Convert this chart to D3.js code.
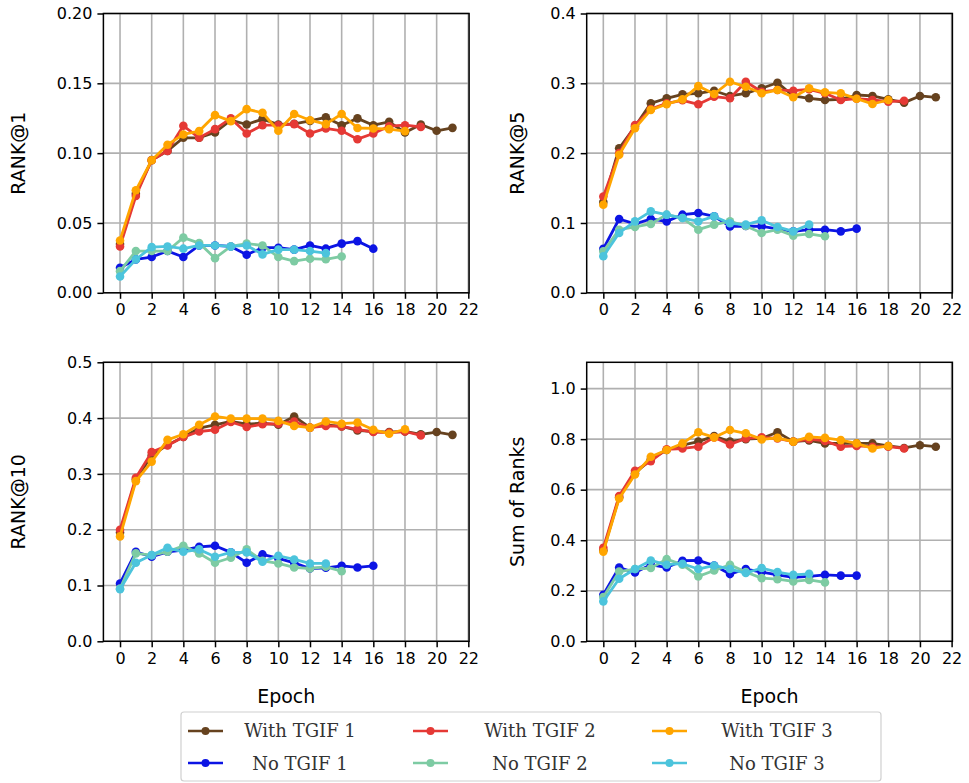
<!DOCTYPE html>
<html><head><meta charset="utf-8">
<script src="https://cdn.jsdelivr.net/npm/d3@7"></script>
<style>body{margin:0;background:#fff} svg{display:block}</style>
</head><body>
<svg id="chart" width="969" height="783"></svg>
<script>
// ---------- data ----------
const xTicks = [0, 2, 4, 6, 8, 10, 12, 14, 16, 18, 20, 22];
const seriesNames = ["With TGIF 1", "With TGIF 2", "With TGIF 3", "No TGIF 1", "No TGIF 2", "No TGIF 3"];
const seriesColors = ["#66421f", "#e53935", "#ffa500", "#0c14e4", "#7dcba3", "#4cc4dc"];

const yLabels = ["RANK@1", "RANK@5", "RANK@10", "Sum of Ranks"];
const yTicks1 = [0, 0.05, 0.10, 0.15, 0.20];
const yTicks5 = [0, 0.1, 0.2, 0.3, 0.4];
const yTicks10 = [0, 0.1, 0.2, 0.3, 0.4, 0.5];
const yTicksSum = [0, 0.2, 0.4, 0.6, 0.8, 1.0];

const rank1_with1 = [0.035, 0.071, 0.095, 0.1016, 0.111, 0.111, 0.1148, 0.1236, 0.1205, 0.1244, 0.1205, 0.121, 0.1231, 0.1256, 0.120, 0.1249, 0.120, 0.1224, 0.1148, 0.1205, 0.116, 0.1181];
const rank1_with2 = [0.0332, 0.0693, 0.0949, 0.1016, 0.1196, 0.111, 0.1172, 0.1249, 0.1141, 0.120, 0.120, 0.1208, 0.1141, 0.1177, 0.116, 0.110, 0.1141, 0.1193, 0.120, 0.1188];
const rank1_with3 = [0.0375, 0.0734, 0.0949, 0.106, 0.1134, 0.1158, 0.1272, 0.1229, 0.1315, 0.1289, 0.116, 0.128, 0.1236, 0.1208, 0.128, 0.118, 0.1177, 0.1172, 0.1158];
const rank1_no1 = [0.0179, 0.0239, 0.0256, 0.0299, 0.0256, 0.0339, 0.0339, 0.0332, 0.0273, 0.0323, 0.0323, 0.0309, 0.0339, 0.0316, 0.0352, 0.037, 0.0316];
const rank1_no2 = [0.0155, 0.0299, 0.0299, 0.0299, 0.0395, 0.0356, 0.0248, 0.0332, 0.0352, 0.0339, 0.0256, 0.0227, 0.0244, 0.024, 0.026];
const rank1_no3 = [0.0117, 0.0239, 0.0327, 0.0332, 0.0316, 0.0339, 0.0339, 0.0332, 0.0339, 0.0275, 0.0309, 0.0309, 0.0299, 0.0284];

const rank5_with1 = [0.130, 0.207, 0.238, 0.2714, 0.2786, 0.2843, 0.2857, 0.2894, 0.2819, 0.2857, 0.2929, 0.3009, 0.2819, 0.2786, 0.2761, 0.277, 0.2833, 0.2819, 0.277, 0.2724, 0.2819, 0.28];
const rank5_with2 = [0.138, 0.200, 0.2404, 0.263, 0.2714, 0.2757, 0.27, 0.2809, 0.2786, 0.3023, 0.288, 0.2904, 0.2894, 0.2914, 0.2857, 0.2761, 0.278, 0.2761, 0.2738, 0.275];
const rank5_with3 = [0.126, 0.1976, 0.2357, 0.262, 0.27, 0.277, 0.296, 0.2847, 0.3023, 0.295, 0.2857, 0.2904, 0.28, 0.2929, 0.2871, 0.2857, 0.278, 0.2704, 0.2761];
const rank5_no1 = [0.0629, 0.1057, 0.0986, 0.1057, 0.1023, 0.1119, 0.1143, 0.1094, 0.0951, 0.0957, 0.0951, 0.0914, 0.088, 0.0904, 0.0904, 0.088, 0.0919];
const rank5_no2 = [0.0594, 0.0904, 0.0943, 0.0986, 0.1119, 0.1071, 0.0904, 0.0976, 0.1023, 0.0957, 0.0857, 0.0904, 0.0819, 0.0843, 0.0809];
const rank5_no3 = [0.0523, 0.0857, 0.1023, 0.1166, 0.1119, 0.1071, 0.1023, 0.1094, 0.0995, 0.0976, 0.1037, 0.0943, 0.088, 0.0976];

const rank10_with1 = [0.195, 0.29, 0.333, 0.352, 0.366, 0.382, 0.388, 0.394, 0.389, 0.391, 0.388, 0.403, 0.383, 0.388, 0.385, 0.378, 0.376, 0.375, 0.376, 0.371, 0.375, 0.37];
const rank10_with2 = [0.2, 0.293, 0.339, 0.351, 0.366, 0.376, 0.379, 0.393, 0.384, 0.389, 0.39, 0.394, 0.383, 0.386, 0.385, 0.38, 0.375, 0.374, 0.376, 0.369];
const rank10_with3 = [0.188, 0.287, 0.322, 0.361, 0.371, 0.388, 0.403, 0.399, 0.399, 0.399, 0.395, 0.386, 0.383, 0.394, 0.39, 0.392, 0.379, 0.372, 0.38];
const rank10_no1 = [0.1036, 0.1604, 0.1515, 0.1604, 0.1635, 0.1694, 0.1712, 0.1593, 0.1407, 0.1557, 0.1485, 0.1407, 0.1305, 0.1317, 0.1353, 0.1323, 0.1353];
const rank10_no2 = [0.0946, 0.1575, 0.1545, 0.1604, 0.1712, 0.1575, 0.1407, 0.1497, 0.1647, 0.1443, 0.1395, 0.1323, 0.1305, 0.1335, 0.1257];
const rank10_no3 = [0.0934, 0.1407, 0.1545, 0.1676, 0.1604, 0.1647, 0.1515, 0.1593, 0.1593, 0.1425, 0.1533, 0.1467, 0.1395, 0.1395];

const sum_with1 = [0.36, 0.57, 0.665, 0.72, 0.757, 0.776, 0.79, 0.812, 0.79, 0.80, 0.803, 0.827, 0.79, 0.795, 0.783, 0.783, 0.783, 0.783, 0.773, 0.765, 0.776, 0.77];
const sum_with2 = [0.37, 0.575, 0.675, 0.713, 0.76, 0.763, 0.77, 0.807, 0.779, 0.803, 0.807, 0.803, 0.79, 0.80, 0.793, 0.77, 0.773, 0.77, 0.77, 0.763];
const sum_with3 = [0.355, 0.565, 0.66, 0.73, 0.757, 0.783, 0.827, 0.807, 0.836, 0.823, 0.799, 0.805, 0.79, 0.809, 0.805, 0.796, 0.783, 0.763, 0.773];
const sum_no1 = [0.184, 0.292, 0.272, 0.303, 0.292, 0.319, 0.32, 0.30, 0.266, 0.286, 0.274, 0.263, 0.253, 0.257, 0.263, 0.26, 0.26];
const sum_no2 = [0.175, 0.276, 0.286, 0.29, 0.325, 0.303, 0.257, 0.28, 0.303, 0.274, 0.25, 0.246, 0.237, 0.243, 0.233];
const sum_no3 = [0.158, 0.2475, 0.286, 0.32, 0.303, 0.307, 0.286, 0.30, 0.286, 0.27, 0.29, 0.274, 0.263, 0.267];

// ---------- layout ----------
const panels = [
  {label: yLabels[0], series: [rank1_with1, rank1_with2, rank1_with3, rank1_no1, rank1_no2, rank1_no3], yMax: 0.20, ticks: yTicks1, fmt: d3.format(".2f"), l: 103.4, r: 469.1, t: 13.5, b: 292.8, labX: 18},
  {label: yLabels[1], series: [rank5_with1, rank5_with2, rank5_with3, rank5_no1, rank5_no2, rank5_no3], yMax: 0.40, ticks: yTicks5, fmt: d3.format(".1f"), l: 586.7, r: 952.4, t: 13.5, b: 292.8, labX: 517},
  {label: yLabels[2], series: [rank10_with1, rank10_with2, rank10_with3, rank10_no1, rank10_no2, rank10_no3], yMax: 0.50, ticks: yTicks10, fmt: d3.format(".1f"), l: 103.4, r: 469.1, t: 362.3, b: 641.3, labX: 18, xlab: true},
  {label: yLabels[3], series: [sum_with1, sum_with2, sum_with3, sum_no1, sum_no2, sum_no3], yMax: 1.104, ticks: yTicksSum, fmt: d3.format(".1f"), l: 586.7, r: 952.4, t: 362.3, b: 641.3, labX: 517, xlab: true}
];

const svg = d3.select("#chart");
const FONT = "DejaVu Sans, sans-serif";

panels.forEach(p => {
  const x = d3.scaleLinear().domain([-1.05, 22.05]).range([p.l, p.r]);
  const y = d3.scaleLinear().domain([0, p.yMax]).range([p.b, p.t]);
  const g = svg.append("g");

  // grid
  g.append("g").selectAll("line").data(xTicks).join("line")
    .attr("x1", d => x(d)).attr("x2", d => x(d)).attr("y1", p.t).attr("y2", p.b)
    .attr("stroke", "#b0b0b0").attr("stroke-width", 1.6);
  g.append("g").selectAll("line").data(p.ticks).join("line")
    .attr("y1", d => y(d)).attr("y2", d => y(d)).attr("x1", p.l).attr("x2", p.r)
    .attr("stroke", "#b0b0b0").attr("stroke-width", 1.6);

  // axes
  const xa = g.append("g").attr("transform", `translate(0,${p.b})`)
    .call(d3.axisBottom(x).tickValues(xTicks).tickSize(6).tickPadding(5).tickFormat(d3.format("d")));
  const ya = g.append("g").attr("transform", `translate(${p.l},0)`)
    .call(d3.axisLeft(y).tickValues(p.ticks).tickSize(6).tickPadding(5).tickFormat(p.fmt));
  [xa, ya].forEach(a => {
    a.select(".domain").remove();
    a.selectAll("line").attr("stroke", "#000").attr("stroke-width", 1.5);
    a.selectAll("text").attr("font-family", FONT).attr("font-size", 16).attr("fill", "#000");
  });

  // frame
  g.append("rect").attr("x", p.l).attr("y", p.t).attr("width", p.r - p.l).attr("height", p.b - p.t)
    .attr("fill", "none").attr("stroke", "#000").attr("stroke-width", 1.5);

  // series
  const line = d3.line().x((d, i) => x(i)).y(d => y(d));
  p.series.forEach((s, k) => {
    const sg = g.append("g");
    sg.append("path").datum(s).attr("d", line).attr("fill", "none")
      .attr("stroke", seriesColors[k]).attr("stroke-width", 2.8).attr("stroke-linejoin", "round");
    sg.selectAll("circle").data(s).join("circle")
      .attr("cx", (d, i) => x(i)).attr("cy", d => y(d)).attr("r", 4.3).attr("fill", seriesColors[k]);
  });

  // y label
  const cy = (p.t + p.b) / 2;
  svg.append("text").attr("transform", `translate(${p.labX},${cy}) rotate(-90)`)
    .attr("text-anchor", "middle").attr("dy", "0.35em")
    .attr("font-family", FONT).attr("font-size", 19).text(p.label);
  if (p.xlab) {
    svg.append("text").attr("x", (p.l + p.r) / 2).attr("y", 696).attr("dy", "0.35em")
      .attr("text-anchor", "middle").attr("font-family", FONT).attr("font-size", 19).text("Epoch");
  }
});

// ---------- legend ----------
const lg = svg.append("g");
lg.append("rect").attr("x", 181).attr("y", 712).attr("width", 700).attr("height", 69).attr("rx", 3)
  .attr("fill", "#fff").attr("stroke", "#d0d0d0").attr("stroke-width", 1.2);
const colHandle = [188, 413, 652];
const colText = [300, 540, 777];
const rowY = [731, 763];
seriesNames.forEach((name, k) => {
  const c = k % 3, r = Math.floor(k / 3);
  lg.append("line").attr("x1", colHandle[c]).attr("x2", colHandle[c] + 35).attr("y1", rowY[r]).attr("y2", rowY[r])
    .attr("stroke", seriesColors[k]).attr("stroke-width", 2.6);
  lg.append("circle").attr("cx", colHandle[c] + 17.5).attr("cy", rowY[r]).attr("r", 4).attr("fill", seriesColors[k]);
  lg.append("text").attr("x", colText[c]).attr("y", rowY[r] + (r === 0 ? 0 : 1)).attr("dy", "0.35em")
    .attr("text-anchor", "middle").attr("font-family", "DejaVu Serif, serif").attr("font-size", 18)
    .attr("fill", "#333").text(name);
});
</script>
</body></html>
